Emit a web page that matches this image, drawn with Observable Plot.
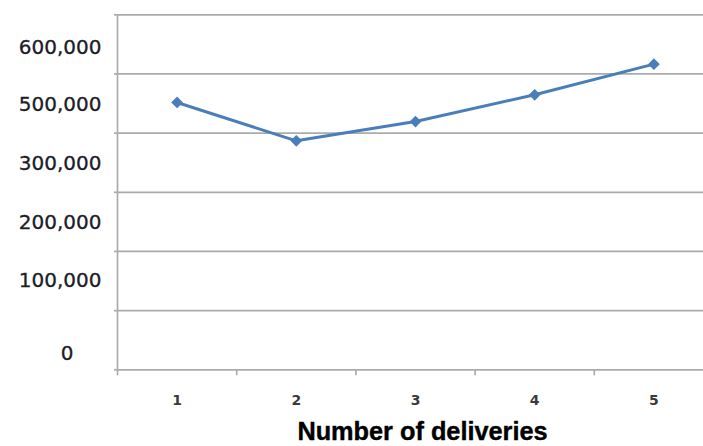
<!DOCTYPE html>
<html>
<head>
<meta charset="utf-8">
<script src="https://cdn.jsdelivr.net/npm/d3@7"></script>
<script src="https://cdn.jsdelivr.net/npm/@observablehq/plot@0.6"></script>
<style>
  html, body { margin: 0; padding: 0; background: #fff; }
  #chart svg { display: block; }
</style>
</head>
<body>
<div id="chart"></div>
<script>
// Data
const categories = [1, 2, 3, 4, 5];
const values = [451800, 387000, 419600, 464800, 516600];
const gridValues = [0, 100000, 200000, 300000, 400000, 500000, 600000];
const categoryBoundaries = [0.5, 1.5, 2.5, 3.5, 4.5];
const yTickLabels = ["600,000", "500,000", "300,000", "200,000", "100,000"];
const yTickLabelValues = [545200, 448400, 348200, 249400, 150900];
const zeroLabel = ["0"];
const zeroLabelValue = [28100];
const xTitle = "Number of deliveries";

const data = categories.map((c, i) => ({c, v: values[i]}));
const gridColor = "#ababab";
const blue = "#4a7ebb";

const chart = Plot.plot({
  width: 703,
  height: 446,
  marginLeft: 117,
  marginRight: 0,
  marginTop: 14.3,
  marginBottom: 76.7,
  x: {domain: [0.5, 5.416]},
  y: {domain: [0, 600000]},
  style: {fontFamily: "DejaVu Sans", background: "#fff"},
  marks: [
    Plot.ruleY(gridValues, {stroke: gridColor, strokeWidth: 1.7}),
    Plot.axisY({ticks: gridValues, tickSize: 3, tickFormat: () => "", stroke: gridColor, strokeWidth: 1.7, strokeOpacity: 1, label: null}),
    Plot.ruleX([categoryBoundaries[0]], {stroke: gridColor, strokeWidth: 1.7}),
    Plot.axisX({ticks: categoryBoundaries, tickSize: 6, tickFormat: () => "", stroke: gridColor, strokeWidth: 1.7, strokeOpacity: 1, label: null}),
    Plot.text(categories, {
      x: d => d, text: d => String(d), frameAnchor: "bottom", dy: 35,
      fontSize: 14, fontWeight: "bold", fill: "#3a3a3a"
    }),
    Plot.text(yTickLabels, {
      y: (d, i) => yTickLabelValues[i], text: d => d, frameAnchor: "left",
      textAnchor: "end", dx: -16, fontSize: 20, fill: "#1c1c28", stroke: "#1c1c28", strokeWidth: 0.3
    }),
    Plot.text(zeroLabel, {
      y: (d, i) => zeroLabelValue[i], text: d => d, frameAnchor: "left",
      textAnchor: "end", dx: -44, fontSize: 20, fill: "#1c1c28", stroke: "#1c1c28", strokeWidth: 0.3
    }),
    Plot.line(data, {x: "c", y: "v", stroke: blue, strokeWidth: 3}),
    Plot.dot(data, {x: "c", y: "v", symbol: "diamond2", r: 5.3, fill: blue, stroke: "none"}),
    Plot.text([xTitle], {
      frameAnchor: "bottom", dx: 12, dy: 70, fontSize: 25.3, fontWeight: "bold",
      fontFamily: "Liberation Sans", fill: "#000", stroke: "#000", strokeWidth: 0.4
    })
  ]
});
document.getElementById("chart").appendChild(chart);
</script>
</body>
</html>
